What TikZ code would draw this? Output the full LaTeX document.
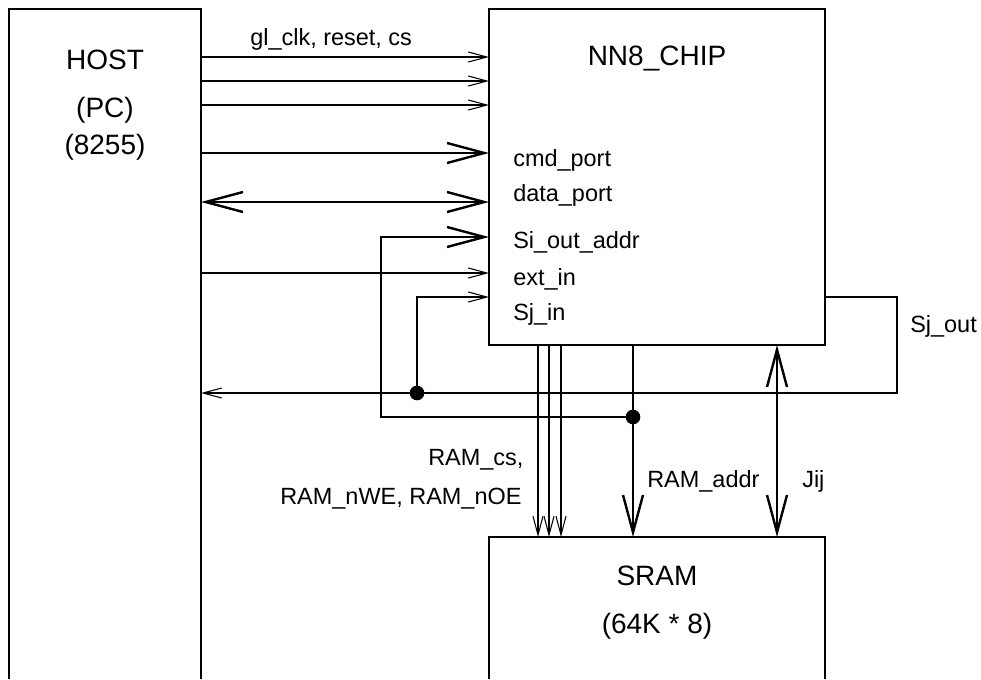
\documentclass[tikz,border=0pt]{standalone}
\usepackage{fontspec}
\setmainfont{Liberation Sans}
\usetikzlibrary{arrows.meta}
\begin{document}
\begin{tikzpicture}[x=0.75pt,y=-0.75pt,font=\fontsize{17.6}{21}\selectfont,
   blk/.style={inner sep=0pt,outer sep=0pt},
   wire/.style={line width=0.8pt},
   bus/.style={line width=1.8pt},
   tip/.style={-{Straight Barb[length=14pt,width=7.5pt]}},
   btip/.style={-{Straight Barb[length=28pt,width=15pt]}},
   bbtip/.style={{Straight Barb[length=28pt,width=15pt]}-{Straight Barb[length=28pt,width=15pt]}},
   lbl/.style={anchor=base west,inner sep=0pt},
   big/.style={font=\fontsize{21}{25}\selectfont,anchor=base,inner sep=0pt},
   dot/.style={circle,fill,inner sep=0pt,minimum size=11pt}]
\useasboundingbox (0,0) rectangle (981,679);
% blocks: host and sram run off the bottom edge
\node[blk,minimum width=144pt,minimum height=502.5pt] (host) at (105,344) {};
\draw[wire] (host.south west) |- (host.north east) -- (host.south east);
\node[blk,draw,wire,minimum width=252pt,minimum height=252pt] (chip) at (657,177) {};
\node[blk,minimum width=252pt,minimum height=106.5pt] (sram) at (657,608) {};
\draw[wire] (sram.south west) |- (sram.north east) -- (sram.south east);
\node[big] (thost) at (105,69) {HOST};
\node[big] (tpc) at (105,117) {(PC)};
\node[big] (tppi) at (105,154) {(8255)};
\node[big] (tchip) at (657,65) {NN8\_CHIP};
\node[big] (tsram) at (657,585) {SRAM};
\node[big] (tsize) at (657,633) {(64K * 8)};
% port names inside the chip
\foreach \t/\yy [count=\i] in {cmd\_port/166,data\_port/201,Si\_out\_addr/248,ext\_in/285,Sj\_in/320}
  {\node[lbl] (port\i) at (513,\yy) {\t};}
% host -> chip
\foreach \yy in {57,81,105}
  {\draw[wire,tip] (host.east |- 0,\yy) -- (chip.west |- 0,\yy);}
\node[lbl] (tctl) at (250,45) {gl\_clk, reset, cs};
\draw[bus,btip] (host.east |- 0,153) -- (chip.west |- 0,153);
\draw[bus,bbtip] (host.east |- 0,202) -- (chip.west |- 0,202);
\draw[wire,tip] (host.east |- 0,273) -- (chip.west |- 0,273);
% address bus to sram, fed back as Si_out_addr
\node[dot] (ja) at (633,417) {};
\draw[bus,btip] (chip.south -| 633,0) -- (sram.north -| 633,0);
\draw[bus,btip] (ja.center) -| (381,237) -- (chip.west |- 0,237);
% Sj_out loop back to host and Sj_in
\node[dot] (jb) at (417,393) {};
\draw[wire,tip] (chip.east |- 0,297) -| (897,393) -- (host.east |- 0,393);
\draw[wire,tip] (jb.center) |- (chip.west |- 0,297);
\node[lbl] (tsjout) at (910,332) {Sj\_out};
% chip -> sram control and data
\foreach \xx in {538,549,561}
  {\draw[wire,tip] (chip.south -| \xx,0) -- (sram.north -| \xx,0);}
\draw[bus,bbtip] (chip.south -| 777,0) -- (sram.north -| 777,0);
\node[lbl] (tcs) at (428,465) {RAM\_cs,};
\node[lbl] (twe) at (280,504) {RAM\_nWE, RAM\_nOE};
\node[lbl] (taddr) at (647,487) {RAM\_addr};
\node[lbl] (tjij) at (802,487) {Jij};
\end{tikzpicture}
\end{document}
